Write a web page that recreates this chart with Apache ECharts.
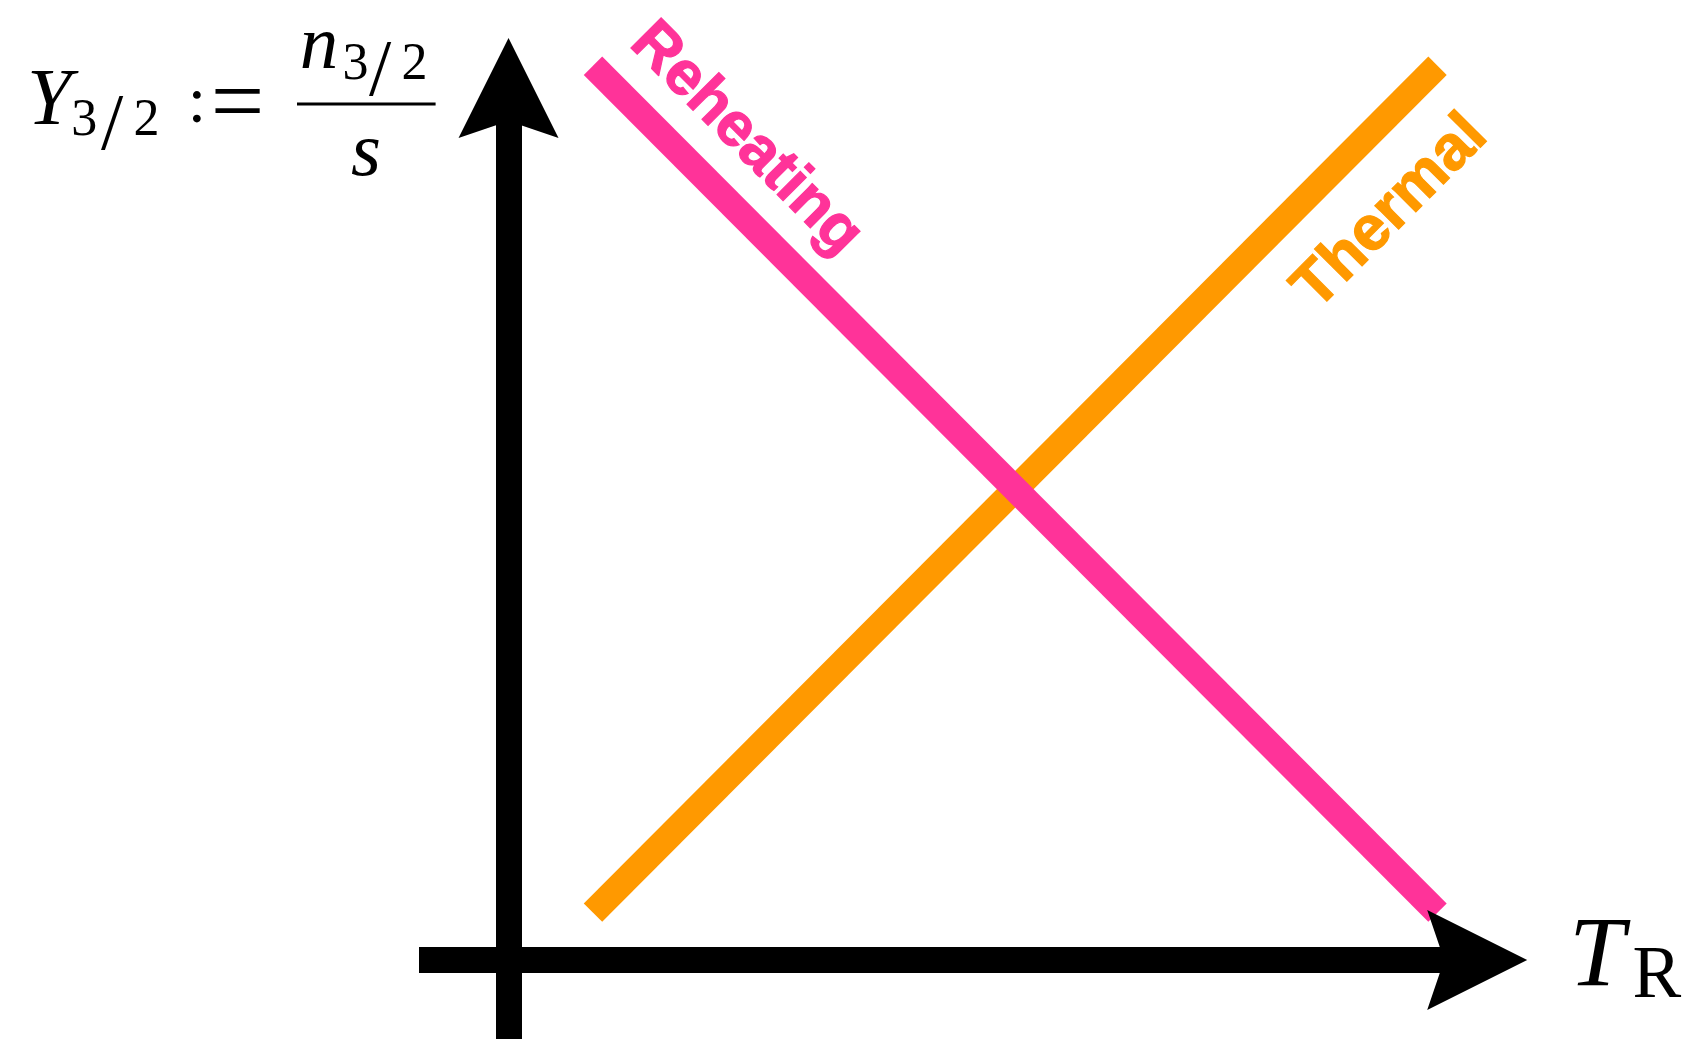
<!DOCTYPE html>
<html><head><meta charset="utf-8">
<script src="https://cdn.jsdelivr.net/npm/echarts@6/dist/echarts.min.js"></script>
<style>html,body{margin:0;padding:0;background:#fff}#c{width:1682px;height:1039px}</style>
</head><body><div id="c"></div>
<script>
// ---- data (arbitrary log units) ----
const seriesNames = ['Thermal', 'Reheating'];
const xEnds = [1, 11];
const thermalY = [0.56, 10.57];
const reheatingY = [10.57, 0.56];
const seriesColors = ['#FF9900', '#FF3399'];
const xLabelMain = 'T', xLabelSub = 'R';
const X_MIN = -1.06, X_MAX = 11.464, Y_MIN = -0.934, Y_MAX = 10.301;

const chart = echarts.init(document.getElementById('c'), null, {renderer: 'canvas'});
const toPairs = ys => xEnds.map((x, i) => [x, ys[i]]);
const thermalData = toPairs(thermalY);
const reheatingData = toPairs(reheatingY);

const axisCommon = {
  type: 'value',
  axisLine: {show: true, onZero: true, symbol: 'none',
    lineStyle: {color: '#000', width: 26, cap: 'butt'}},
  axisTick: {show: false}, axisLabel: {show: false}, splitLine: {show: false}
};

chart.setOption({
  animation: false,
  backgroundColor: '#fff',
  grid: {left: 419, right: 205.3, top: 88.5, bottom: 0, containLabel: false, outerBoundsMode: 'none'},
  xAxis: Object.assign({}, axisCommon, {min: X_MIN, max: X_MAX}),
  yAxis: Object.assign({}, axisCommon, {min: Y_MIN, max: Y_MAX}),
  series: [
    {name: seriesNames[0], type: 'line', data: thermalData, symbol: 'none', clip: false, silent: true,
     lineStyle: {color: seriesColors[0], width: 26, cap: 'butt'}, z: 3},
    {name: seriesNames[1], type: 'line', data: reheatingData, symbol: 'none', clip: false, silent: true,
     lineStyle: {color: seriesColors[1], width: 26, cap: 'butt'}, z: 4}
  ]
});

function px(p) { return chart.convertToPixel({gridIndex: 0}, p); }
function unit(a, b) { const dx = b[0]-a[0], dy = b[1]-a[1], l = Math.hypot(dx, dy); return [dx/l, dy/l]; }

// Reheating label: along the line from its start, offset to the upper-right side
const rA = px(reheatingData[0]), rB = px(reheatingData[1]);
const ru = unit(rA, rB), rn = [ru[1], -ru[0]];
const rC = [rA[0] + 160*ru[0] + 56.5*rn[0], rA[1] + 160*ru[1] + 56.5*rn[1]];
// Thermal label: back from the line's end, offset to the lower-right side
const tA = px(thermalData[0]), tB = px(thermalData[1]);
const tu = unit(tA, tB), tn = [-tu[1], tu[0]];
const tC = [tB[0] - 137*tu[0] + 70.5*tn[0], tB[1] - 137*tu[1] + 70.5*tn[1]];

// arrow heads at the axis ends
function arrowHead(end, dir) {
  const L = 100, H = 50, N = 83, tipOff = 50.5;
  const perp = [-dir[1], dir[0]];
  const tip = [end[0] + tipOff*dir[0], end[1] + tipOff*dir[1]];
  const back = k => [tip[0] - k*dir[0], tip[1] - k*dir[1]];
  const b = back(L), n = back(N);
  return {type: 'polygon', silent: true, z: 20,
    shape: {points: [tip, [b[0] + H*perp[0], b[1] + H*perp[1]], n, [b[0] - H*perp[0], b[1] - H*perp[1]]]},
    style: {fill: '#000'}};
}
const xEndPx = px([X_MAX, 0]), yEndPx = px([0, Y_MAX]);

function txt(text, x, y, font, opts) {
  opts = opts || {};
  const st = {text: text, font: font, fill: opts.fill || '#000',
      textAlign: opts.align || 'center', align: opts.align || 'center',
      textVerticalAlign: 'middle', verticalAlign: 'middle'};
  if (opts.stroke) { st.stroke = opts.stroke; st.lineWidth = opts.lineWidth; st.textStroke = opts.stroke; st.textStrokeWidth = opts.lineWidth; }
  return {type: 'text', x: x, y: y, rotation: opts.rotation || 0, silent: true, z: 10, style: st};
}
const SI = '"Liberation Serif", "Times New Roman", serif';
const SANS = '"Liberation Sans", Arial, sans-serif';

chart.setOption({
  graphic: [
    arrowHead(xEndPx, [1, 0]),
    arrowHead(yEndPx, [0, -1]),
    txt(seriesNames[1], rC[0], rC[1], 'bold 62px ' + SANS,
        {fill: seriesColors[1], stroke: seriesColors[1], lineWidth: 1.2, rotation: -Math.atan2(ru[1], ru[0])}),
    txt(seriesNames[0], tC[0], tC[1], 'bold 63px ' + SANS,
        {fill: seriesColors[0], stroke: seriesColors[0], lineWidth: 1.2, rotation: -Math.atan2(tu[1], tu[0])}),
    // Y_{3/2} := n_{3/2} / s
    txt('Y', 27, 102.9, 'italic 80px ' + SI, {align: 'left'}),
    txt('3', 84.3, 121.7, '52px ' + SI),
    txt('/', 112, 128.3, '80px ' + SI),
    txt('2', 146.5, 121.7, '52px ' + SI),
    txt(':', 197, 104.2, '66px ' + SI),
    txt('=', 237.5, 108.2, '95px ' + SI),
    {type: 'rect', shape: {x: 297, y: 102.5, width: 138.6, height: 3}, style: {fill: '#000'}, silent: true},
    txt('n', 319, 47.4, 'italic 77px ' + SI),
    txt('3', 355.5, 65, '52px ' + SI),
    txt('/', 380, 74, '80px ' + SI),
    txt('2', 414.5, 65, '52px ' + SI),
    txt('s', 366, 154.5, 'italic 77px ' + SI),
    // T_R
    txt(xLabelMain, 1569, 959, 'italic 100px ' + SI, {align: 'left'}),
    txt(xLabelSub, 1632.5, 978, '73px ' + SI, {align: 'left'})
  ]
});
</script></body></html>
